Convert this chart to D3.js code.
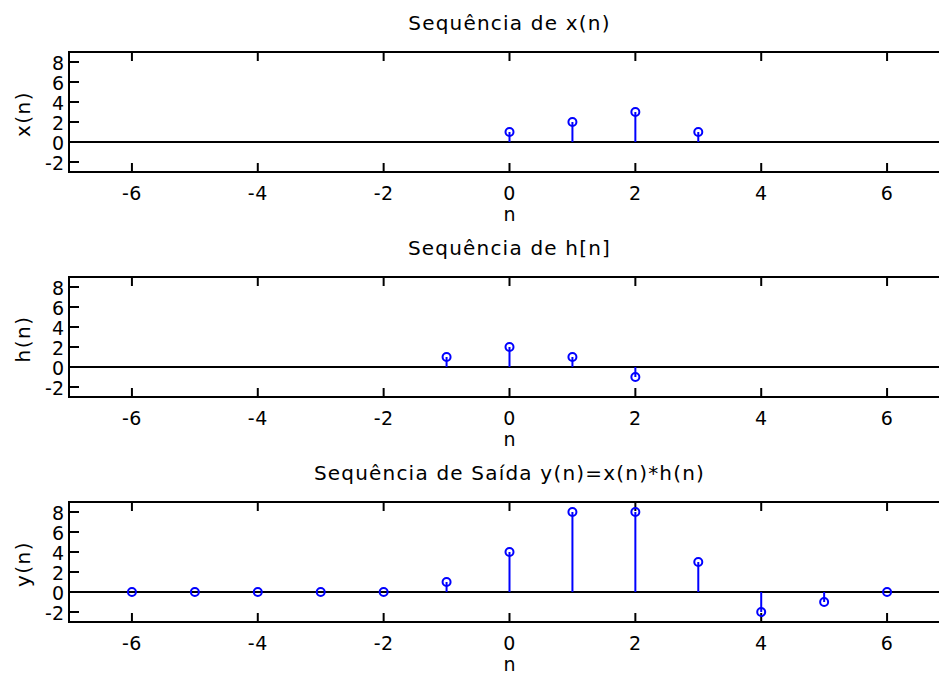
<!DOCTYPE html>
<html>
<head>
<meta charset="utf-8">
<script src="https://cdn.jsdelivr.net/npm/d3@7"></script>
<style>
html,body{margin:0;padding:0;background:#fff;}
svg{display:block;}
text{font-family:"DejaVu Sans",sans-serif;fill:#000;}
</style>
</head>
<body>
<script>
// Data
const xN = [0, 1, 2, 3];
const xVals = [1, 2, 3, 1];
const hN = [-1, 0, 1, 2];
const hVals = [1, 2, 1, -1];
const yN = [-6, -5, -4, -3, -2, -1, 0, 1, 2, 3, 4, 5, 6];
const yVals = [0, 0, 0, 0, 0, 1, 4, 8, 8, 3, -2, -1, 0];
const xTicks = [-6, -4, -2, 0, 2, 4, 6];
const yTicks = [-2, 0, 2, 4, 6, 8];
const titles = ["Sequência de x(n)", "Sequência de h[n]", "Sequência de Saída y(n)=x(n)*h(n)"];
const yLabels = ["x(n)", "h(n)", "y(n)"];
const xLabel = "n";

const W = 939, H = 675;
const svg = d3.select("body").append("svg").attr("width", W).attr("height", H);
svg.append("rect").attr("width", W).attr("height", H).attr("fill", "#fff");

const left = 69, right = 950, axH = 120;
const tops = [52, 277, 502];
const xs = d3.scaleLinear().domain([-7, 7]).range([left, right]);
const series = [[xN, xVals], [hN, hVals], [yN, yVals]];

series.forEach(([ns, vs], i) => {
  const top = tops[i], bottom = top + axH;
  const ys = d3.scaleLinear().domain([-3, 9]).range([bottom, top]);
  const g = svg.append("g");

  const tl = 9;
  g.selectAll(".xtb").data(xTicks).enter().append("line")
    .attr("x1", d => xs(d)).attr("x2", d => xs(d))
    .attr("y1", bottom).attr("y2", bottom - tl)
    .attr("stroke", "#000").attr("stroke-width", 2);
  g.selectAll(".xtt").data(xTicks).enter().append("line")
    .attr("x1", d => xs(d)).attr("x2", d => xs(d))
    .attr("y1", top).attr("y2", top + tl)
    .attr("stroke", "#000").attr("stroke-width", 2);
  g.selectAll(".ytl").data(yTicks).enter().append("line")
    .attr("x1", left).attr("x2", left + 10)
    .attr("y1", d => ys(d)).attr("y2", d => ys(d))
    .attr("stroke", "#000").attr("stroke-width", 2);
  g.selectAll(".ytr").data(yTicks).enter().append("line")
    .attr("x1", right).attr("x2", right - 10)
    .attr("y1", d => ys(d)).attr("y2", d => ys(d))
    .attr("stroke", "#000").attr("stroke-width", 2);

  // baseline
  g.append("line").attr("x1", left).attr("x2", right)
    .attr("y1", ys(0)).attr("y2", ys(0))
    .attr("stroke", "#000").attr("stroke-width", 2);

  // stems
  const data = ns.map((n, k) => ({n: n, v: vs[k]}));
  g.selectAll(".stem").data(data).enter().append("line")
    .attr("x1", d => xs(d.n)).attr("x2", d => xs(d.n))
    .attr("y1", ys(0)).attr("y2", d => ys(d.v))
    .attr("stroke", "#0000ff").attr("stroke-width", 2);
  g.selectAll(".mk").data(data).enter().append("circle")
    .attr("cx", d => xs(d.n)).attr("cy", d => ys(d.v)).attr("r", 4)
    .attr("fill", "none").attr("stroke", "#0000ff").attr("stroke-width", 2);

  // box
  g.append("rect").attr("x", left).attr("y", top)
    .attr("width", right - left).attr("height", axH)
    .attr("fill", "none").attr("stroke", "#000").attr("stroke-width", 2);

  // tick labels
  g.selectAll(".xl").data(xTicks).enter().append("text")
    .attr("x", d => xs(d)).attr("y", bottom + 28)
    .attr("text-anchor", "middle").attr("font-size", 19)
    .attr("letter-spacing", 0.5)
    .text(d => d);
  g.selectAll(".yl").data(yTicks).enter().append("text")
    .attr("x", 64).attr("y", d => ys(d) + 8)
    .attr("text-anchor", "end").attr("font-size", 19)
    .text(d => d);

  // x label
  g.append("text").attr("x", (left + right) / 2).attr("y", bottom + 49)
    .attr("text-anchor", "middle").attr("font-size", 19).text(xLabel);
  // y label
  g.append("text").attr("transform", `translate(30,${(top + bottom) / 2 + 2}) rotate(-90)`)
    .attr("text-anchor", "middle").attr("font-size", 20)
    .attr("letter-spacing", 1.5).text(yLabels[i]);
  // title
  g.append("text").attr("x", (left + right) / 2).attr("y", top - 22)
    .attr("text-anchor", "middle").attr("font-size", 20)
    .attr("letter-spacing", 1.2).text(titles[i]);
});
</script>
</body>
</html>
